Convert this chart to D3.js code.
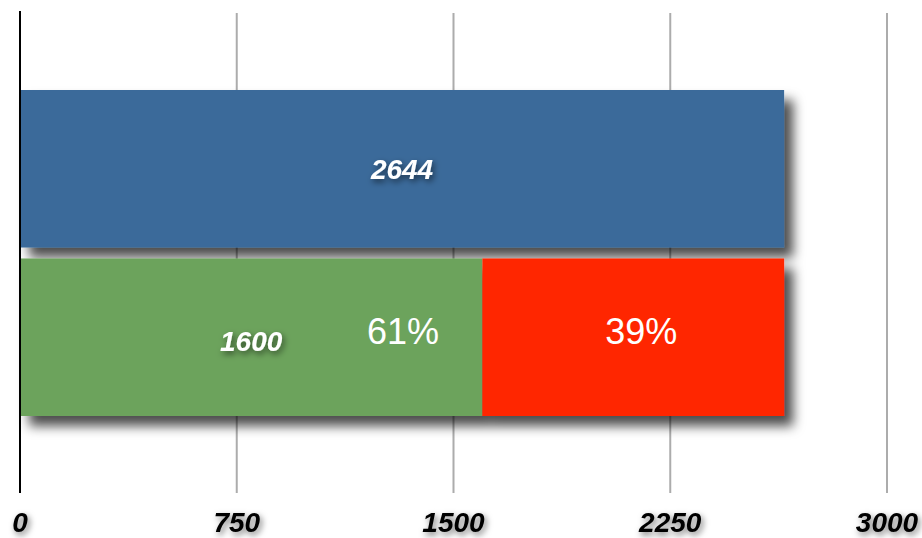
<!DOCTYPE html>
<html>
<head>
<meta charset="utf-8">
<script src="https://cdn.jsdelivr.net/npm/d3@7"></script>
<style>
  html, body { margin: 0; padding: 0; background: #fff; }
  svg { display: block; font-family: "Liberation Sans", Arial, sans-serif; }
</style>
</head>
<body>
<div id="chart"></div>
<script>
const ticks = [0, 750, 1500, 2250, 3000];
const rows = ["total", "split"];
const totalValue = [2644];
const splitValues = [1600, 1044];
const splitColors = ["#6ca35b", "#ff2600"];
const splitLabels = ["61%", "39%"];

const rootWidth = 922;
const rootHeight = 538;

const svg = d3
  .select("#chart")
  .append("svg")
  .attr("width", rootWidth)
  .attr("height", rootHeight);

const defs = svg.append("defs");
defs
  .append("filter")
  .attr("id", "barShadow")
  .attr("x", "-10%")
  .attr("y", "-20%")
  .attr("width", "130%")
  .attr("height", "160%")
  .append("feDropShadow")
  .attr("dx", 9)
  .attr("dy", 10)
  .attr("stdDeviation", 6)
  .attr("flood-color", "#000")
  .attr("flood-opacity", 0.7);
defs
  .append("filter")
  .attr("id", "textShadow")
  .attr("x", "-30%")
  .attr("y", "-50%")
  .attr("width", "160%")
  .attr("height", "200%")
  .append("feDropShadow")
  .attr("dx", 2)
  .attr("dy", 3)
  .attr("stdDeviation", 3)
  .attr("flood-color", "#000")
  .attr("flood-opacity", 0.55);

const xScale = d3.scaleLinear().domain([0, 3000]).range([20, 887]);
const yScale = d3
  .scaleBand()
  .domain(rows)
  .range([90, 416])
  .paddingInner(0.065)
  .paddingOuter(0);

// grid lines
svg
  .append("g")
  .selectAll("line")
  .data(ticks.slice(1))
  .join("line")
  .attr("x1", (d) => xScale(d))
  .attr("x2", (d) => xScale(d))
  .attr("y1", 13)
  .attr("y2", 493)
  .attr("stroke", "#acacac")
  .attr("stroke-width", 2);

// bars
const bars = svg.append("g").attr("filter", "url(#barShadow)");
bars
  .append("rect")
  .attr("x", xScale(0))
  .attr("y", yScale("total"))
  .attr("width", xScale(totalValue[0]) - xScale(0))
  .attr("height", yScale.bandwidth())
  .attr("fill", "#3b6b9a");

const stacked = d3.cumsum(splitValues);
bars
  .selectAll("rect.split")
  .data(splitValues)
  .join("rect")
  .attr("class", "split")
  .attr("x", (d, i) => xScale(stacked[i] - d))
  .attr("y", yScale("split"))
  .attr("width", (d, i) => xScale(stacked[i]) - xScale(stacked[i] - d))
  .attr("height", yScale.bandwidth())
  .attr("fill", (d, i) => splitColors[i]);

// axis line
svg
  .append("line")
  .attr("x1", xScale(0))
  .attr("x2", xScale(0))
  .attr("y1", 11)
  .attr("y2", 493)
  .attr("stroke", "#000")
  .attr("stroke-width", 2);

// value labels
const valueLabels = svg
  .append("g")
  .attr("fill", "#fff")
  .attr("font-weight", "bold")
  .attr("font-style", "italic")
  .attr("font-size", 28)
  .attr("text-anchor", "middle")
  .attr("filter", "url(#textShadow)");
valueLabels
  .append("text")
  .attr("x", xScale(totalValue[0] / 2))
  .attr("y", yScale("total") + 89)
  .text(totalValue[0]);
valueLabels
  .append("text")
  .attr("x", xScale(splitValues[0] / 2))
  .attr("y", yScale("split") + 93)
  .text(splitValues[0]);

// percentage labels
const pctAt = [1325, 2150];
svg
  .append("g")
  .selectAll("text")
  .data(splitLabels)
  .join("text")
  .attr("x", (d, i) => xScale(pctAt[i]))
  .attr("y", yScale("split") + 86)
  .attr("text-anchor", "middle")
  .attr("fill", "#fff")
  .attr("font-size", 36)
  .text((d) => d);

// tick labels
svg
  .append("g")
  .attr("filter", "url(#textShadow)")
  .selectAll("text")
  .data(ticks)
  .join("text")
  .attr("x", (d) => xScale(d))
  .attr("y", 532)
  .attr("text-anchor", "middle")
  .attr("font-weight", "bold")
  .attr("font-style", "italic")
  .attr("font-size", 28)
  .attr("fill", "#000")
  .text((d) => d);
</script>
</body>
</html>
